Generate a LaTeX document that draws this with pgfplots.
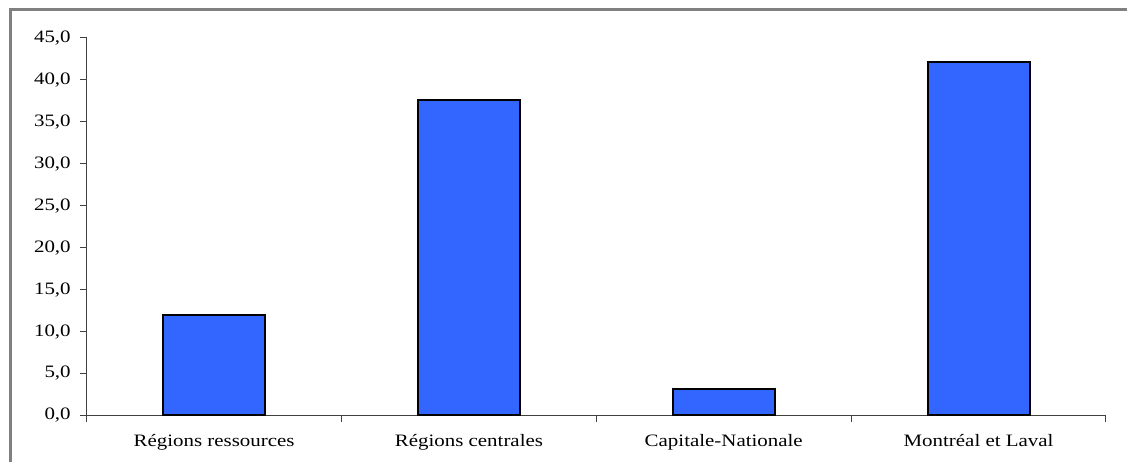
\documentclass[border=0pt]{standalone}
\usepackage{fontspec}
\setmainfont{Liberation Serif}[FakeStretch=1.2]
\usepackage{pgfplots}
\pgfplotsset{compat=1.18}
\definecolor{barblue}{HTML}{3366FF}
\definecolor{framegray}{HTML}{808080}
\begin{document}
\begin{tikzpicture}[x=1bp,y=1bp]
\path[use as bounding box] (0,0) rectangle (1127,462);
\draw[framegray, line width=2.5bp] (10.3,0) -- (10.3,452.7) -- (1127,452.7);
\begin{axis}[
  at={(86.7bp,46.5bp)}, anchor=south west,
  width=1019.3bp, height=377.7bp, scale only axis,
  xmin=0, xmax=4, ymin=0, ymax=45,
  axis lines=left,
  axis line style={-, black!75, line width=1bp},
  ytick={0,5,...,45},
  xtick={0,1,2,3,4},
  x tick label as interval,
  xticklabels={Régions ressources, Régions centrales, Capitale-Nationale, Montréal et Laval},
  tick align=outside,
  major tick length=6.5bp,
  tick style={black!75, line width=1bp},
  ticklabel style={font=\fontsize{17.5}{19}\selectfont, text=black},
  xticklabel style={yshift=-9bp},
  yticklabel style={xshift=-6bp, /pgf/number format/.cd, fixed, fixed zerofill, precision=1, use comma, assume math mode=true},
  ybar, bar width=102bp,
]
\addplot[fill=barblue, draw=black, line width=2bp] coordinates {(0.5,12.0) (1.5,37.6) (2.5,3.1) (3.5,42.1)};
\end{axis}
\end{tikzpicture}
\end{document}
